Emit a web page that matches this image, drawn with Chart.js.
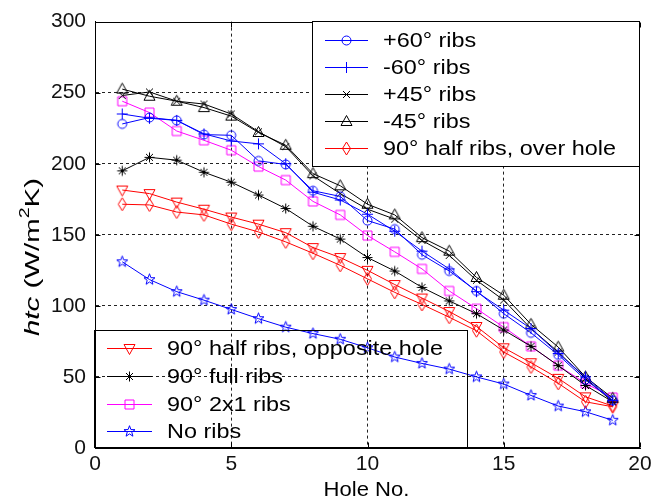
<!DOCTYPE html>
<html><head><meta charset="utf-8">
<script src="https://cdn.jsdelivr.net/npm/chart.js@4/dist/chart.umd.min.js"></script>
<style>html,body{margin:0;padding:0;background:#fff}canvas{display:block}</style>
</head><body>
<canvas id="c" width="656" height="501"></canvas>
<script>
// ---- data ----
const holes = [1,2,3,4,5,6,7,8,9,10,11,12,13,14,15,16,17,18,19];
const ribsPlus60  = [228,232.5,230.5,220.5,220,202,199.5,181,177,160,154,136,124.5,110.5,94.5,81,65.5,48,33.5];
const ribsMinus60 = [235,232,230.5,221,216,214,200,180,174.5,164.5,152.5,138.5,126,110,97,84,66.5,50,33.5];
const ribsPlus45  = [248,250.5,244,242,235,222.5,212,191.5,179,168,161,146,135.5,118,104,84,67.5,49,32.5];
const ribsMinus45 = [252.5,247.5,244,239.5,233.5,222,213,193,184.5,171.5,164,148,138.5,120,107.5,87,71,50,35];
const halfOverHole = [171.5,171,166,164,157.5,152,145,137,128.5,119,109.5,101,92,82.5,67.5,57,45.5,32.5,29];
const halfOppositeHole = [181.5,179,173,168,162.5,157.5,151.5,141,134,125,115,105.5,96,85.5,70.5,60,49,36,29.5];
const fullRibs = [195,204.5,202.5,194,187,178,168.5,156,147,134,124.5,113,103.5,94.5,83,71.5,58,44,32.5];
const ribs2x1 = [244,236,223,216.5,209.5,198,188.5,173.5,164,149.5,138,126,110.5,98,85,71.5,58,45.5,35.5];
const noRibs = [131,118.5,110,104,97.5,91,85,80.5,76.5,70.5,64,59.5,55.5,50,45,37,29.5,25.5,19.5];
const seriesLabels = ['+60\u00b0 ribs','-60\u00b0 ribs','+45\u00b0 ribs','-45\u00b0 ribs','90\u00b0 half ribs, over hole',
  '90\u00b0 half ribs, opposite hole','90\u00b0 full ribs','90\u00b0 2x1 ribs','No ribs'];
const xTickValues = [0,5,10,15,20];
const yTickValues = [0,50,100,150,200,250,300];
const xTitle = 'Hole No.';

// ---- markers ----
function marker(shape, color){
  const S = 17, c = document.createElement('canvas'); c.width = S; c.height = S;
  const g = c.getContext('2d'); g.strokeStyle = color; g.lineWidth = 1; g.translate(S/2, S/2);
  g.beginPath();
  switch(shape){
    case 'circle': g.arc(0,0,4.5,0,Math.PI*2); break;
    case 'plus': g.moveTo(-5.5,0); g.lineTo(5.5,0); g.moveTo(0,-5.5); g.lineTo(0,5.5); break;
    case 'x': g.moveTo(-3.5,-3.5); g.lineTo(3.5,3.5); g.moveTo(-3.5,3.5); g.lineTo(3.5,-3.5); break;
    case 'tri': g.moveTo(0,-6); g.lineTo(5.5,4); g.lineTo(-5.5,4); g.closePath(); break;
    case 'trid': g.moveTo(0,6); g.lineTo(5.5,-4); g.lineTo(-5.5,-4); g.closePath(); break;
    case 'diamond': g.moveTo(0,-6.5); g.lineTo(4,0); g.lineTo(0,6.5); g.lineTo(-4,0); g.closePath(); break;
    case 'star': g.moveTo(-5,0); g.lineTo(5,0); g.moveTo(0,-5); g.lineTo(0,5);
      g.moveTo(-3.5,-3.5); g.lineTo(3.5,3.5); g.moveTo(-3.5,3.5); g.lineTo(3.5,-3.5); break;
    case 'square': g.rect(-4.5,-4.5,9,9); break;
    case 'penta':
      for (let i=0;i<10;i++){ const r = i%2 ? 2.4 : 5.8; const a = -Math.PI/2 + i*Math.PI/5;
        const px = r*Math.cos(a), py = r*Math.sin(a); i ? g.lineTo(px,py) : g.moveTo(px,py); }
      g.closePath(); break;
  }
  g.stroke();
  return c;
}
const BLUE = '#0000ff', BLACK = '#000000', RED = '#ff0000', MAG = '#ff00ff';
const seriesDefs = [
  [ribsPlus60, BLUE, 'circle'], [ribsMinus60, BLUE, 'plus'], [ribsPlus45, BLACK, 'x'],
  [ribsMinus45, BLACK, 'tri'], [halfOverHole, RED, 'diamond'], [halfOppositeHole, RED, 'trid'],
  [fullRibs, BLACK, 'star'], [ribs2x1, MAG, 'square'], [noRibs, BLUE, 'penta']
];
const datasets = seriesDefs.map((d,i) => {
  const img = marker(d[2], d[1]);
  return { label: seriesLabels[i], data: holes.map((h,k)=>({x:h, y:d[0][k]})),
    borderColor: d[1], backgroundColor: d[1], borderWidth: 1, pointStyle: img, pointRadius: 5,
    fill:false, tension:0, _marker: img };
});

const FONT = '"Liberation Sans", Arial, sans-serif';
function scaledText(ctx, text, x, y, font, sx, align){
  ctx.save(); ctx.font = font; ctx.textBaseline = 'middle'; ctx.textAlign = 'left';
  const w = ctx.measureText(text).width * sx;
  ctx.translate(align === 'center' ? x - w/2 : x, y); ctx.scale(sx, 1);
  ctx.fillText(text, 0, 0); ctx.restore(); return w;
}

const decor = {
  id: 'decor',
  afterDraw(chart){
    const {ctx, chartArea:a, scales} = chart; const xs = scales.x, ys = scales.y;
    ctx.save();
    ctx.strokeStyle = '#000'; ctx.lineWidth = 1;
    const L = Math.round(a.left)+0.5, R = Math.round(a.right)-0.5, T = Math.round(a.top)+0.5, B = Math.round(a.bottom)-0.5;
    ctx.strokeRect(L, T, R-L, B-T);
    ctx.beginPath();
    xTickValues.forEach(v => { const p = Math.round(xs.getPixelForValue(v))+0.5;
      ctx.moveTo(p, B); ctx.lineTo(p, B-5); ctx.moveTo(p, T); ctx.lineTo(p, T+5); });
    yTickValues.forEach(v => { const p = Math.round(ys.getPixelForValue(v))+0.5;
      ctx.moveTo(L, p); ctx.lineTo(L+5, p); ctx.moveTo(R, p); ctx.lineTo(R-5, p); });
    ctx.stroke();

    // legends
    const ds = chart.data.datasets;
    const boxes = [
      {x1:312, y1:21, x2:640, y2:167, rows:[40,67,94,121,148], lx1:325, lx2:368, tx:383, items:[0,1,2,3,4], fill:true},
      {x1:94, y1:330, x2:468, y2:448, rows:[348,376,404,431], lx1:107, lx2:152, tx:167, items:[5,6,7,8], fill:false}
    ];
    boxes.forEach(b => {
      if (b.fill){ ctx.fillStyle = '#fff'; ctx.fillRect(b.x1, b.y1, b.x2-b.x1, b.y2-b.y1); }
      ctx.strokeStyle = '#000'; ctx.lineWidth = 1;
      ctx.strokeRect(b.x1+0.5, b.y1+0.5, b.x2-b.x1-1, b.y2-b.y1-1);
      b.items.forEach((idx, r) => {
        const d = ds[idx], y = b.rows[r];
        ctx.strokeStyle = d.borderColor; ctx.lineWidth = 1;
        ctx.beginPath(); ctx.moveTo(b.lx1, y+0.5); ctx.lineTo(b.lx2, y+0.5); ctx.stroke();
        const m = d._marker; const cx = (b.lx1+b.lx2)/2;
        ctx.drawImage(m, Math.round(cx - m.width/2), Math.round(y + 0.5 - m.height/2));
        ctx.fillStyle = '#000';
        scaledText(ctx, d.label, b.tx, y+1, '20px ' + FONT, 1.17, 'left');
      });
    });

    // x title
    ctx.fillStyle = '#000';
    scaledText(ctx, xTitle, (a.left + a.right)/2 - 1, 490, '21px ' + FONT, 1.05, 'center');

    // y title: htc (W/m^2K)
    ctx.save();
    ctx.translate(33, 257); ctx.rotate(-Math.PI/2);
    const parts = [
      {t:'htc', f:'italic 21px ' + FONT, dy:0},
      {t:' (W/m', f:'21px ' + FONT, dy:0},
      {t:'2', f:'14px ' + FONT, dy:-8},
      {t:'K)', f:'21px ' + FONT, dy:0}
    ];
    let total = 0; parts.forEach(p => { ctx.font = p.f; p.w = ctx.measureText(p.t).width; total += p.w; });
    const sx = 158 / total;
    ctx.scale(sx, 1);
    let cx = -total/2; ctx.textBaseline = 'middle'; ctx.fillStyle = '#000';
    parts.forEach(p => { ctx.font = p.f; ctx.fillText(p.t, cx, p.dy); cx += p.w; });
    ctx.restore();
    ctx.restore();
  }
};

const gridColor = (ends) => (c) => (c.tick && ends.includes(c.tick.value)) ? 'rgba(0,0,0,0)' : '#222';

new Chart(document.getElementById('c'), {
  type: 'line',
  data: { datasets },
  options: {
    responsive: false, animation: false, devicePixelRatio: 1,
    layout: { padding: { left: 0, right: 16, top: 21, bottom: 0 } },
    plugins: { legend: { display: false }, tooltip: { enabled: false } },
    scales: {
      x: {
        type: 'linear', min: 0, max: 20,
        afterBuildTicks: s => { s.ticks = xTickValues.map(v => ({ value: v })); },
        afterFit: s => { s.height = 53; },
        grid: { color: gridColor([0,20]), lineWidth: 1, drawTicks: false },
        border: { display: true, color: '#000', width: 1, dash: [3,3] },
        ticks: { color: '#111', font: { family: FONT, size: 21 }, padding: 4, maxRotation: 0 }
      },
      y: {
        min: 0, max: 300,
        afterBuildTicks: s => { s.ticks = yTickValues.map(v => ({ value: v })); },
        afterFit: s => { s.width = 95; },
        grid: { color: gridColor([0,300]), lineWidth: 1, drawTicks: false },
        border: { display: true, color: '#000', width: 1, dash: [3,3] },
        ticks: { color: '#111', font: { family: FONT, size: 21 }, padding: 9 }
      }
    }
  },
  plugins: [decor]
});
</script>
</body></html>
